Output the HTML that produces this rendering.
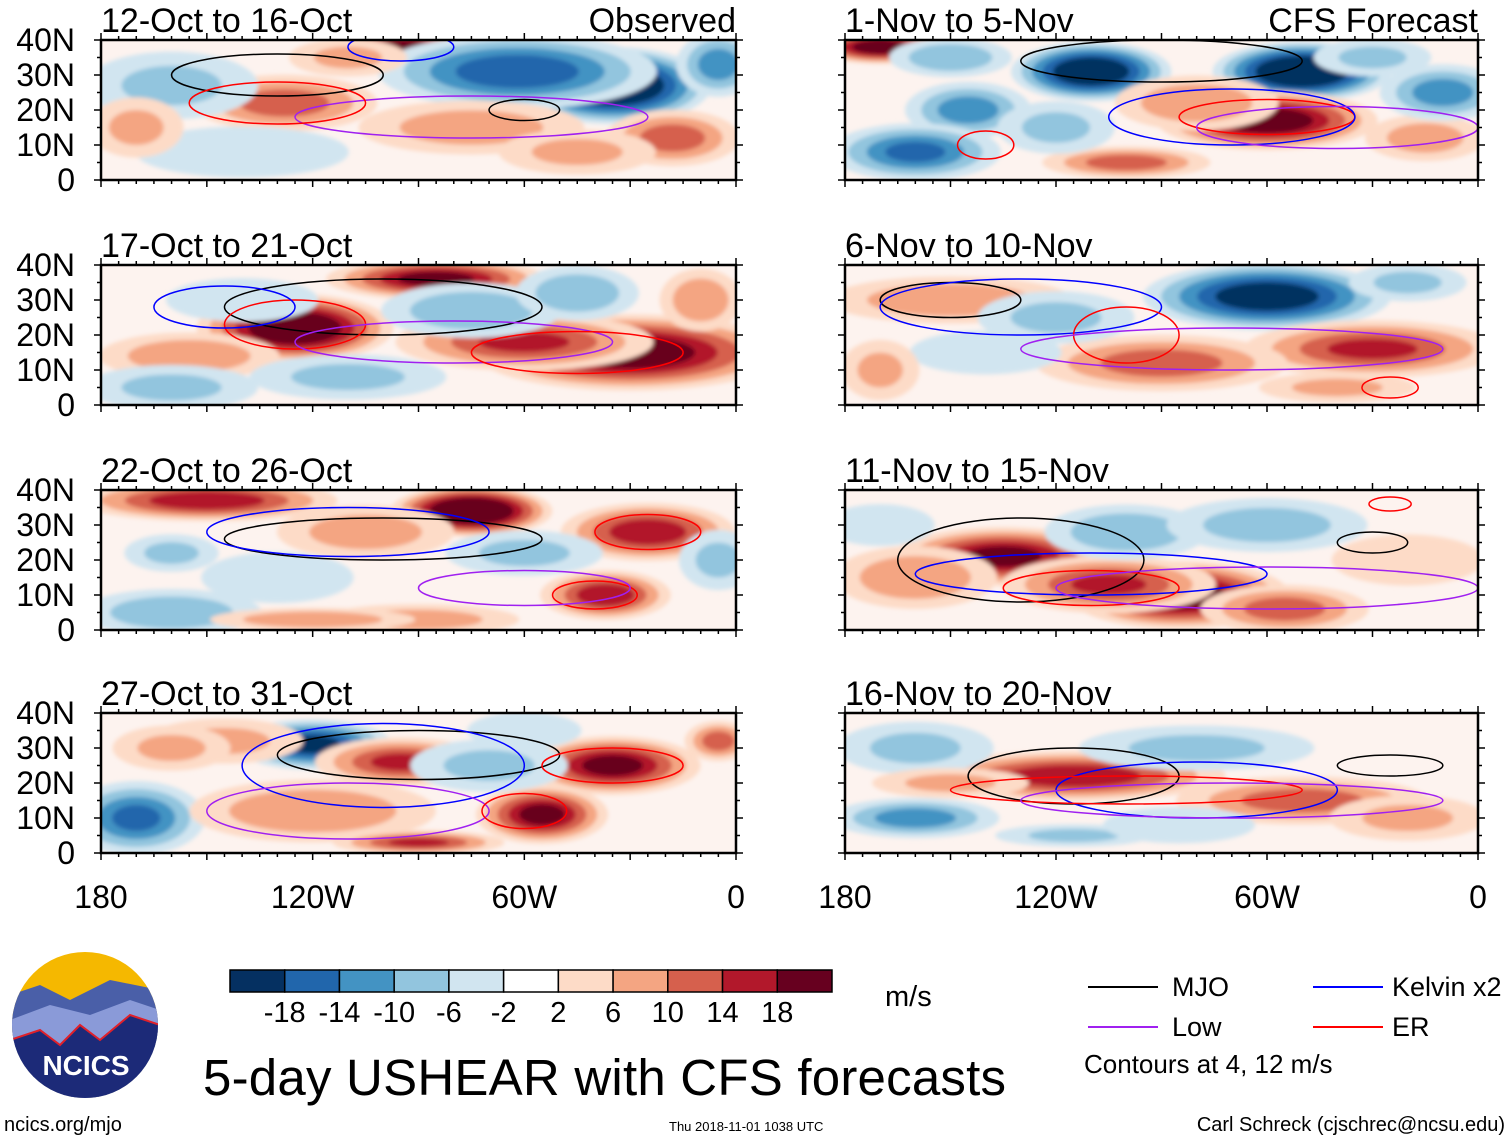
<!DOCTYPE html>
<html><head><meta charset="utf-8">
<style>
body{margin:0;background:#fff;width:1510px;height:1141px;overflow:hidden;font-family:"Liberation Sans",Arial,sans-serif}
svg{display:block}
</style></head><body>
<svg id="c" width="1510" height="1141" font-family="Liberation Sans, Arial, sans-serif"></svg>
<script>
const levels=[-18,-14,-10,-6,-2,2,6,10,14,18];
const colors=["#053061","#2166ac","#4393c3","#92c5de","#d1e5f0","#ffffff","#fddbc7","#f4a582","#d6604d","#b2182b","#67001f"];
const titles=["12-Oct to 16-Oct","17-Oct to 21-Oct","22-Oct to 26-Oct","27-Oct to 31-Oct","1-Nov to 5-Nov","6-Nov to 10-Nov","11-Nov to 15-Nov","16-Nov to 20-Nov"];
const latTicks=["0","10N","20N","30N","40N"];
const lonTicks=["180","120W","60W","0"];
// blobs per panel: [lonW, lat, value, rxDeg, ryDeg]
const blobs0=[[95,37,20,18,5],[35,27,-22,22,9],[62,31,-14,32,9],[128,22,10,22,7],[18,12,10,16,7],[160,27,-6,22,9],[75,15,7,28,7],[140,8,-5,28,7],[5,33,-10,10,8],[110,35,6,15,5],[170,15,6,12,8],[45,8,6,20,6]];
const blobs1=[[125,22,20,22,8],[85,36,16,25,5],[30,15,18,35,9],[60,18,12,30,7],[155,14,8,22,6],[75,27,-8,22,7],[160,5,-6,22,6],[45,32,-8,15,7],[110,8,-6,25,6],[10,30,8,10,8],[140,30,-5,20,6]];
const blobs2=[[150,37,14,30,5],[75,34,22,18,6],[37,10,14,15,6],[25,28,14,20,7],[160,5,-8,22,6],[105,28,7,22,7],[90,3,7,25,4],[130,15,-5,20,7],[60,22,-6,20,6],[120,3,8,25,3],[160,22,-6,12,5],[5,20,-6,10,8]];
const blobs3=[[120,31,-16,18,6],[95,26,12,20,6],[35,25,16,20,7],[55,11,16,15,7],[170,10,-12,16,9],[120,12,8,30,8],[70,25,-6,20,7],[145,32,6,20,6],[90,3,12,20,3],[5,32,10,8,5],[160,30,6,15,6],[60,35,-5,15,5]];
const blobs4=[[110,31,-20,18,7],[50,31,-22,20,7],[60,17,18,25,7],[170,38,18,15,4],[145,20,-10,15,7],[160,8,-12,20,7],[80,22,8,20,7],[100,5,10,20,4],[15,12,7,15,6],[10,25,-10,15,7],[120,15,-6,15,7],[150,35,-8,15,5],[30,35,-6,15,5]];
const blobs5=[[60,31,-18,28,8],[150,30,8,30,6],[30,16,12,30,7],[90,12,10,30,7],[120,25,-6,20,7],[140,15,-5,20,6],[20,35,-6,15,5],[170,10,6,10,8],[40,5,6,20,4]];
const blobs6=[[135,21,16,25,7],[85,10,18,25,8],[105,13,12,25,7],[55,6,10,20,6],[100,28,-8,20,7],[60,30,-7,25,7],[160,15,8,20,8],[20,20,5,20,7],[170,30,-4,15,6]];
const blobs7=[[115,22,14,35,6],[50,15,10,30,6],[160,10,-10,20,5],[115,5,-6,20,3],[160,30,-6,20,7],[80,30,-6,30,6],[20,10,6,20,6],[85,8,-5,20,5],[150,20,6,20,4]];
const allBlobs=[blobs0,blobs1,blobs2,blobs3,blobs4,blobs5,blobs6,blobs7];
// contours per panel: [type, lonW, lat, rxDeg, ryDeg]
const contours=[
 [["mjo",130,30,30,6],["mjo",60,20,10,3],["low",75,18,50,6],["er",130,22,25,6],["kel",95,38,15,4]],
 [["mjo",100,28,45,8],["er",125,23,20,7],["low",80,18,45,6],["er",45,15,30,6],["kel",145,28,20,6]],
 [["mjo",100,26,45,6],["kel",110,28,40,7],["er",40,10,12,4],["low",60,12,30,5],["er",25,28,15,5]],
 [["mjo",90,28,40,7],["kel",100,25,40,12],["er",35,25,20,5],["low",110,12,40,8],["er",60,12,12,5]],
 [["mjo",90,34,40,6],["er",60,18,25,5],["kel",70,18,35,8],["er",140,10,8,4],["low",40,15,40,6]],
 [["mjo",150,30,20,5],["kel",130,28,40,8],["er",100,20,15,8],["low",70,16,60,6],["er",25,5,8,3]],
 [["mjo",130,20,35,12],["kel",110,16,50,6],["er",110,12,25,5],["low",60,12,60,6],["er",25,36,6,2],["mjo",30,25,10,3]],
 [["mjo",115,22,30,8],["kel",80,18,40,8],["er",100,18,50,4],["low",70,15,60,5],["mjo",25,25,15,3]]
];
const ctrColor={mjo:"#000",low:"#a020f0",kel:"#0000ff",er:"#ff0000"};
const NS="http://www.w3.org/2000/svg";
const svg=document.getElementById("c");
function mk(t,a,p){const e=document.createElementNS(NS,t);for(const k in a)e.setAttribute(k,a[k]);(p||svg).appendChild(e);return e;}
const colX=[101,845], W=[635,633], rowY=[40,265,490,713], H=140;
function colorFor(v){let i=0;while(i<levels.length&&v>levels[i])i++;return colors[i];}
mk("defs",{}).innerHTML='<filter id="bl"><feGaussianBlur stdDeviation="2"/></filter>';
for(let p=0;p<8;p++){
 const col=p<4?0:1,row=p%4,x0=colX[col],y0=rowY[row],w=W[col];
 const xs=lon=>x0+(180-lon)/180*w, ys=lat=>y0+H-lat/40*H;
 const g=mk("g",{});
 
 
 const cid="cp"+p;
 mk("clipPath",{id:cid},g).appendChild(mk("rect",{x:x0,y:y0,width:w,height:H},g));
 const inner=mk("g",{"clip-path":"url(#"+cid+")"},g);
 mk("rect",{x:x0,y:y0,width:w,height:H,fill:"#fdf3ef"},inner);
 const bg=mk("g",{filter:"url(#bl)"},inner);
 allBlobs[p].forEach(b=>{
  const [lon,lat,v,rx,ry]=b;const s=Math.sign(v),a=Math.abs(v)*1.2;
  const th=[2,6,10,14,18].filter(t=>t<a);
  th.forEach(t=>{const f=1-t/(a+2)*0.8;
   const e=mk("ellipse",{cx:xs(lon),cy:ys(lat),rx:rx*1.35/180*w*f,ry:ry*1.3/40*H*f,fill:colorFor(s*(t+1))},bg);
   
   });
 });
 contours[p].forEach(c=>{
  const e=mk("ellipse",{cx:xs(c[1]),cy:ys(c[2]),rx:c[3]/180*w,ry:c[4]/40*H,fill:"none",stroke:ctrColor[c[0]],"stroke-width":1.5},inner);
  
  
 });
 mk("rect",{x:x0,y:y0,width:w,height:H,fill:"none",stroke:"#000","stroke-width":2.5},g);
 for(let i=0;i<=36;i++){const x=x0+i/36*w;const L=i%6==0?7:4;
  mk("line",{x1:x,y1:y0,x2:x,y2:y0-L,stroke:"#000","stroke-width":1.5},g);
  mk("line",{x1:x,y1:y0+H,x2:x,y2:y0+H+L,stroke:"#000","stroke-width":1.5},g);}
 for(let i=0;i<=8;i++){const y=y0+i/8*H;const L=i%2==0?7:4;
  mk("line",{x1:x0,y1:y,x2:x0-L,y2:y,stroke:"#000","stroke-width":1.5},g);
  mk("line",{x1:x0+w,y1:y,x2:x0+w+L,y2:y,stroke:"#000","stroke-width":1.5},g);}
 const t=mk("text",{x:x0,y:y0-8,"font-size":34},g);t.textContent=titles[p];
 
 
 if(row==0){const r=mk("text",{x:x0+w,y:y0-8,"font-size":34,"text-anchor":"end"},g);r.textContent=col==0?"Observed":"CFS Forecast";
  
  }
 if(col==0){latTicks.forEach((l,i)=>{const e=mk("text",{x:75,y:ys(i*10)+11,"font-size":32,"text-anchor":"end"},g);e.textContent=l;
  
  });}
 if(row==3){lonTicks.forEach((l,i)=>{const e=mk("text",{x:x0+i/3*w,y:908,"font-size":32,"text-anchor":"middle"},g);e.textContent=l;
  
  });}
}
// colorbar
const cb=mk("g",{});


const cbx=230,cbw=602,cby=970,cbh=22,bw=cbw/colors.length;
colors.forEach((c,i)=>mk("rect",{x:cbx+i*bw,y:cby,width:bw,height:cbh,fill:c,stroke:"#000","stroke-width":1.5},cb));
levels.forEach((l,i)=>{const e=mk("text",{x:cbx+(i+1)*bw,y:1022,"font-size":29,"text-anchor":"middle"},cb);e.textContent=l;});
const u=mk("text",{x:885,y:1006,"font-size":29},cb);u.textContent="m/s";
// legend
const lg=mk("g",{});


[["MJO","#000",1088,1172,987],["Kelvin x2","#0000ff",1313,1392,987],["Low","#a020f0",1088,1172,1027],["ER","#ff0000",1313,1392,1027]].forEach(d=>{
 mk("line",{x1:d[2],y1:d[4],x2:d[2]+70,y2:d[4],stroke:d[1],"stroke-width":2},lg);
 const e=mk("text",{x:d[3],y:d[4]+9,"font-size":27},lg);e.textContent=d[0];});
const ct=mk("text",{x:1084,y:1073,"font-size":26},lg);ct.textContent="Contours at 4, 12 m/s";
// title etc
const tt=mk("text",{x:203,y:1095,"font-size":51,textLength:803});tt.textContent="5-day USHEAR with CFS forecasts";

const a1=mk("text",{x:4,y:1131,"font-size":20});a1.textContent="ncics.org/mjo";

const a2=mk("text",{x:669,y:1131,"font-size":13});a2.textContent="Thu 2018-11-01 1038 UTC";

const a3=mk("text",{x:1505,y:1131,"font-size":20,"text-anchor":"end"});a3.textContent="Carl Schreck (cjschrec@ncsu.edu)";

// logo
const lo=mk("g",{});


mk("clipPath",{id:"lc"},lo).appendChild(mk("circle",{cx:85,cy:1025,r:73},lo));
const li=mk("g",{"clip-path":"url(#lc)"},lo);
mk("rect",{x:10,y:950,width:150,height:150,fill:"#f5b800"},li);
mk("path",{d:"M10 995 L40 985 L70 1000 L110 980 L160 990 L160 1100 L10 1100Z",fill:"#4a5fa8"},li);
mk("path",{d:"M10 1020 L50 1005 L90 1015 L130 1000 L160 1010 L160 1100 L10 1100Z",fill:"#8a9ad8"},li);
mk("path",{d:"M10 1040 L40 1030 L60 1045 L80 1025 L100 1040 L130 1015 L160 1025 L160 1100 L10 1100Z",fill:"#1c2a78",stroke:"#e0202a","stroke-width":2},li);
const ln=mk("text",{x:86,y:1075,"font-size":28,"font-weight":"bold",fill:"#fff","text-anchor":"middle"},lo);ln.textContent="NCICS";
</script>
</body></html>
